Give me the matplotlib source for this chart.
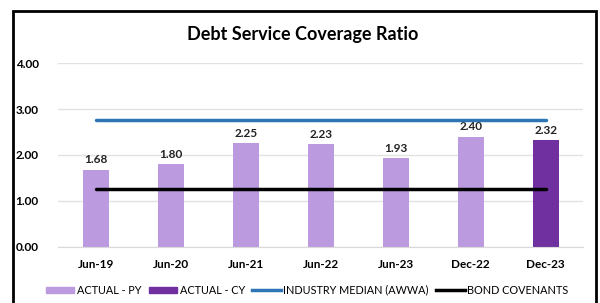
import matplotlib.pyplot as plt
from matplotlib.patches import Rectangle
from matplotlib.lines import Line2D
from matplotlib.patches import Patch

plt.rcParams['font.family'] = ['Lato', 'DejaVu Sans']

# Chart data
periods = ['Jun-19', 'Jun-20', 'Jun-21', 'Jun-22', 'Jun-23', 'Dec-22', 'Dec-23']
actual = [1.68, 1.80, 2.25, 2.23, 1.93, 2.40, 2.32]
is_current = [False, False, False, False, False, False, True]
industry_median = [2.75] * 7
bond_covenants = [1.25] * 7

py_color = '#BC9AE0'
cy_color = '#7030A0'
median_color = '#2E75B6'

fig = plt.figure(figsize=(6, 3.03), dpi=100)
ax = fig.add_axes([0.097, 0.185, 0.875, 0.607])

x = list(range(len(periods)))
colors = [cy_color if c else py_color for c in is_current]
ax.bar(x, actual, width=0.35, color=colors, zorder=2)
for xi, v in zip(x, actual):
    ax.text(xi, v + 0.1, f'{v:.2f}', ha='center', va='bottom',
            fontsize=8.5, fontweight='bold', color='#222222')

ax.plot(x, industry_median, color=median_color, lw=2.5, solid_capstyle='round', zorder=3)
ax.plot(x, bond_covenants, color='black', lw=2.5, solid_capstyle='round', zorder=3)

ax.set_xlim(-0.5, len(periods) - 0.5)
ax.set_ylim(0, 4)
ax.set_yticks([0, 1, 2, 3, 4])
ax.set_yticklabels([f'{t:.2f}' for t in [0, 1, 2, 3, 4]], fontsize=8.5, fontweight='bold')
ax.set_xticks(x)
ax.set_xticklabels(periods, fontsize=8.5, fontweight='bold')
ax.tick_params(length=0, pad=9)
ax.tick_params(axis='y', pad=14)
ax.grid(axis='y', color='#E2E2E2', lw=1, zorder=0)
for s in ['top', 'right', 'left']:
    ax.spines[s].set_visible(False)
ax.spines['bottom'].set_color('#D9D9D9')

fig.text(0.505, 0.885, 'Debt Service Coverage Ratio', ha='center', va='center',
         fontsize=13, fontweight='bold')

handles = [
    Patch(color=py_color, label='ACTUAL - PY'),
    Patch(color=cy_color, label='ACTUAL - CY'),
    Line2D([], [], color=median_color, lw=2.5, label='INDUSTRY MEDIAN (AWWA)'),
    Line2D([], [], color='black', lw=2.5, label='BOND COVENANTS'),
]
fig.legend(handles=handles, loc='center', bbox_to_anchor=(0.512, 0.042), ncol=4,
           frameon=False, fontsize=7.8, handlelength=2.6, handleheight=0.6,
           handletextpad=0.25, columnspacing=0.7)

fig.patches.append(Rectangle((0.022, -0.1), 0.972, 1.065, transform=fig.transFigure,
                             fill=False, edgecolor='black', lw=2))

fig.savefig('out.png', dpi=100)
